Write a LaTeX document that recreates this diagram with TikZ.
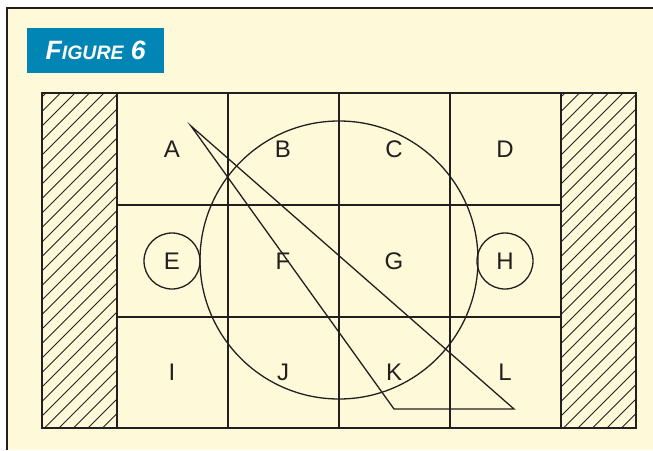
\documentclass[tikz,border=0pt]{standalone}
\usepackage{fontspec}
\setmainfont{Liberation Sans}
\usetikzlibrary{positioning}
\definecolor{paperCream}{RGB}{254,249,216}
\definecolor{figBlue}{RGB}{0,133,181}
\definecolor{inkGray}{RGB}{35,31,32}

\begin{document}
\begin{tikzpicture}[
    x=1pt, y=-1pt,
    every node/.style={font=\fontsize{24}{24}\selectfont, text=inkGray},
    gridline/.style={draw=inkGray, line width=1.7pt},
    thinline/.style={draw=inkGray, line width=1.3pt},
    hatchline/.style={draw=inkGray, line width=1pt},
    ring/.style={circle, draw=inkGray, line width=1.3pt, inner sep=0pt, minimum size=#1},
    cellletter/.style={inner sep=0pt}
]

% Page and frame
\useasboundingbox (0,0) rectangle (653,450);
\fill[white] (0,0) rectangle (653,450);
\fill[paperCream] (7,8) rectangle (653,450);
\draw[draw=inkGray, line width=1.5pt] (7,450) -- (7,8) -- (653,8);

% Title
\node[fill=figBlue, anchor=north west, minimum width=137pt, minimum height=45pt, inner sep=0pt,
      font=\bfseries\itshape\fontsize{26.5}{26}\selectfont, text=white] (figlabel) at (27,28)
      {F{\fontsize{19.5}{19}\selectfont IGURE} 6};

% Hatched end strips
\begin{scope}
  \clip (42,93) rectangle (117,428);
  \foreach \k in {0,...,30}
    \draw[hatchline] ({46-335+14.5*\k},428) -- ++(340,-340);
\end{scope}
\begin{scope}
  \clip (561,93) rectangle (636,428);
  \foreach \k in {0,...,30}
    \draw[hatchline] ({565-335+14.5*\k},428) -- ++(340,-340);
\end{scope}

% Grid
\draw[gridline] (42,93) rectangle (636,428);
\foreach \gx in {117,228,339,450,561}
  \draw[gridline] (\gx,93) -- (\gx,428);
\foreach \gy in {205,317}
  \draw[gridline] (117,\gy) -- (561,\gy);

% Big circle
\node[ring=278pt] (bigring) at (339,260) {};

% Cell letters
\foreach \name/\cx/\cy in {A/172/149, B/283/149, C/394/149, D/505/149,
                           F/283/261, G/394/261,
                           I/172/372, J/283/372, K/394/372, L/505/372}
  \node[cellletter] (\name) at (\cx,\cy) {\name};
\node[ring=56pt] (E) at (172,261) {E};
\node[ring=56pt] (H) at (505,261) {H};

% Triangle
\coordinate (apex) at (191,126);
\coordinate (tipR) at (514,409);
\coordinate (tipL) at (394,409);
\draw[thinline, line join=miter] (apex) -- (tipR) -- (tipL) -- cycle;

\end{tikzpicture}
\end{document}
